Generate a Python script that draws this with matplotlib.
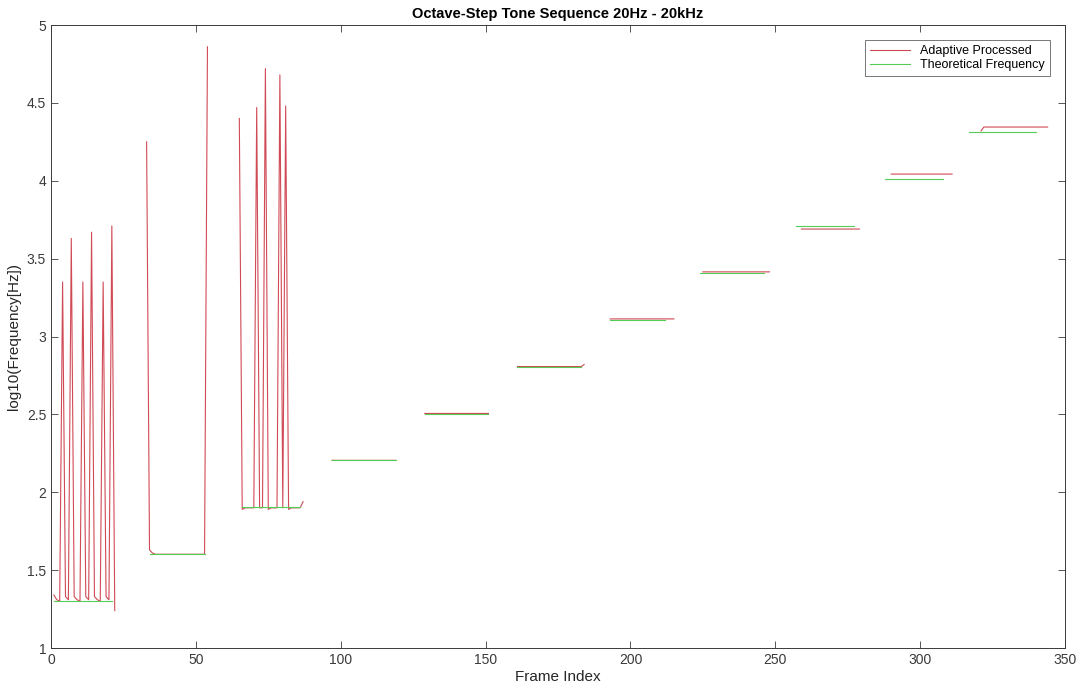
import numpy as np
import matplotlib
matplotlib.use("Agg")
import matplotlib.pyplot as plt

plt.rcParams["font.family"] = ["Liberation Sans", "DejaVu Sans"]

# Adaptive processed estimate (polyline vertices, NaN = gap between tones)
adaptive_frames = [
    1, 2, 3, 4, 5, 6, 7, 8, 9, 10, 11, 12, 13, 14, 15, 16, 17, 18, 19, 20, 21, 22, np.nan,
    33, 34, 35, 36, 53, 54, np.nan,
    65, 66, 67, 70, 71, 72, 73, 74, 75, 76, 78, 79, 80, 81, 82, 83, 86, 87, np.nan,
    97, 119, np.nan,
    129, 151, np.nan,
    161, 183, 184, np.nan,
    193, 215, np.nan,
    225, 248, np.nan,
    259, 279, np.nan,
    290, 311, np.nan,
    321, 322, 344,
]
adaptive_logf = [
    1.34, 1.31, 1.30, 3.35, 1.33, 1.31, 3.63, 1.33, 1.31, 1.30, 3.35, 1.33, 1.31, 3.67,
    1.33, 1.31, 1.30, 3.35, 1.33, 1.31, 3.71, 1.24, np.nan,
    4.25, 1.63, 1.61, 1.602, 1.602, 4.86, np.nan,
    4.40, 1.89, 1.90, 1.90, 4.47, 1.90, 1.90, 4.72, 1.89, 1.90, 1.90, 4.68, 1.90, 4.48,
    1.89, 1.90, 1.90, 1.94, np.nan,
    2.205, 2.205, np.nan,
    2.506, 2.506, np.nan,
    2.807, 2.807, 2.82, np.nan,
    3.113, 3.113, np.nan,
    3.415, 3.415, np.nan,
    3.690, 3.690, np.nan,
    4.043, 4.043, np.nan,
    4.32, 4.345, 4.345,
]

# Theoretical frequency per tone (start frame, end frame, log10 Hz)
tone_start = [1, 34, 66, 97, 129, 161, 193, 224, 257, 288, 317]
tone_end = [21, 53, 86, 119, 151, 183, 212, 246, 277, 308, 340]
tone_logf = [1.301, 1.602, 1.903, 2.204, 2.505, 2.806, 3.107, 3.408, 3.709, 4.010, 4.311]

theo_frames = []
theo_logf = []
for s, e, v in zip(tone_start, tone_end, tone_logf):
    theo_frames += [s, e, np.nan]
    theo_logf += [v, v, np.nan]

fig = plt.figure(figsize=(10.76, 6.89), dpi=100)
ax = fig.add_axes([0.0474, 0.0595, 0.9424, 0.9042])

ax.plot(adaptive_frames, adaptive_logf, color="#d04a55", lw=0.8, label="Adaptive Processed")
ax.plot(theo_frames, theo_logf, color="#55cc55", lw=0.8, label="Theoretical Frequency")

ax.set_xlim(0, 350)
ax.set_ylim(1, 5)
ax.set_xticks(range(0, 351, 50))
ax.set_yticks([1, 1.5, 2, 2.5, 3, 3.5, 4, 4.5, 5])
ax.set_yticklabels(["1", "1.5", "2", "2.5", "3", "3.5", "4", "4.5", "5"])
ax.tick_params(direction="in", top=True, right=True, labelsize=10, colors="#3a3a3a",
               length=5, width=0.6)
for sp in ax.spines.values():
    sp.set_color("#3a3a3a")
    sp.set_linewidth(0.7)

ax.set_title("Octave-Step Tone Sequence 20Hz - 20kHz", fontsize=10.5, fontweight="bold", pad=5)
ax.set_xlabel("Frame Index", fontsize=11, color="#262626", labelpad=2)
ax.set_ylabel("log10(Frequency[Hz])", fontsize=11, color="#262626", labelpad=4)

leg = ax.legend(loc="upper right", fontsize=9, frameon=True, fancybox=False,
                borderaxespad=1.2, handlelength=3.2, labelspacing=0.15,
                borderpad=0.4)
leg.get_frame().set_edgecolor("#3a3a3a")
leg.get_frame().set_linewidth(0.6)

fig.savefig("out.png", dpi=100)
